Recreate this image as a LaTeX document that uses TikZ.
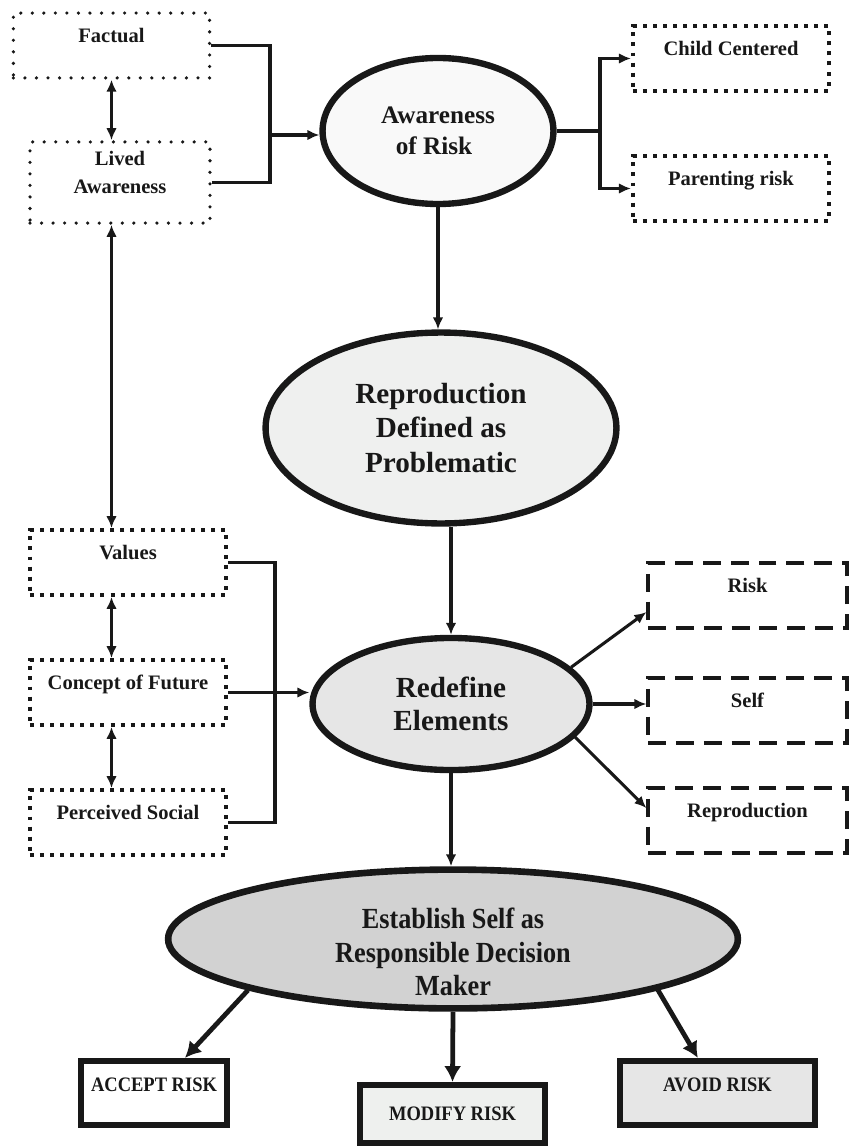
\documentclass[tikz,border=0pt]{standalone}
\usepackage{fontspec}
\setmainfont{Liberation Serif}
\newfontfamily\condfont[FakeStretch=0.9]{Liberation Serif}
\usetikzlibrary{arrows.meta, shapes.geometric}
\definecolor{ink}{RGB}{24,24,24}
\definecolor{ovalA}{RGB}{249,249,249}
\definecolor{ovalB}{RGB}{239,240,239}
\definecolor{ovalC}{RGB}{230,230,230}
\definecolor{ovalD}{RGB}{210,210,210}
\definecolor{boxB}{RGB}{238,240,238}
\definecolor{boxC}{RGB}{230,230,230}

\begin{document}
\begin{tikzpicture}[x=0.0265cm, y=-0.0265cm, >=Latex,
    lbl/.style={text=ink, font=\bfseries\fontsize{15.5}{21}\selectfont},
    toptext/.style={text height=10pt, text depth=15pt},
    dotbox/.style={lbl, draw=ink, line width=2.7pt, line cap=round,
        dash pattern=on 0pt off 8.7pt},
    sqbox/.style={lbl, draw=ink, line width=3pt,
        dash pattern=on 3pt off 4.6pt, minimum width=5.2cm, minimum height=1.72cm},
    dashbox/.style={lbl, draw=ink, line width=2.6pt,
        dash pattern=on 13.5pt off 7.5pt, minimum width=5.27cm, minimum height=1.72cm},
    oval/.style={ellipse, draw=ink, line width=4.8pt, inner sep=0pt,
        align=center, text=ink},
    endbox/.style={draw=ink, line width=4.5pt, text=ink,
        font=\condfont\bfseries\fontsize{15.5}{19}\selectfont},
    wire/.style={draw=ink, line width=2.3pt},
    arr/.style={wire, -{Latex[length=9pt, width=8pt]}},
    both/.style={wire, {Latex[length=9pt, width=8pt]}-{Latex[length=9pt, width=8pt]}},
    bigarr/.style={draw=ink, line width=3.6pt, -{Latex[length=12pt, width=13pt]}},
]
    \useasboundingbox (0,0) rectangle (850,1146);

    % top row
    \node[dotbox, toptext, minimum width=5.2cm, minimum height=1.72cm] (fact) at (111.5,45.5) {Factual};
    \node[dotbox, align=center, minimum width=4.77cm, minimum height=2.15cm] (lived) at (120,182.5) {Lived\\Awareness\\[-6pt]};
    \node[oval, fill=ovalA, minimum width=6.12cm, minimum height=3.87cm,
          font=\bfseries\fontsize{19}{23}\selectfont] (aware) at (438,131) {Awareness\\of Risk\hspace*{6pt}};
    \node[sqbox, toptext] (child)  at (731,58.5)  {Child Centered};
    \node[sqbox, toptext] (parent) at (731,188.5) {Parenting risk};

    \node[oval, fill=ovalB, minimum width=9.3cm, minimum height=5.06cm,
          font=\bfseries\fontsize{22}{26}\selectfont] (reprod) at (441,428) {Reproduction\\Defined as\\Problematic};

    % middle row
    \node[sqbox, toptext] (values)  at (128,562.5) {Values};
    \node[sqbox, toptext] (concept) at (128,692.5) {Concept of Future};
    \node[sqbox, toptext] (percv)   at (128,822.5) {Perceived Social};
    \node[oval, fill=ovalC, minimum width=7.34cm, minimum height=3.5cm,
          font=\bfseries\fontsize{22}{25}\selectfont] (redef) at (451,704) {Redefine\\Elements};
    \node[dashbox, toptext] (risk)    at (747.5,595.5) {Risk};
    \node[dashbox, toptext] (self)    at (747.5,710.5) {Self};
    \node[dashbox, toptext] (reprbox) at (747.5,820.5) {Reproduction};

    % bottom
    \node[oval, fill=ovalD, line width=5pt, minimum width=15.1cm, minimum height=3.68cm] (estab) at (453,939) {};
    \node[align=center, text=ink, font=\condfont\bfseries\fontsize{22}{25}\selectfont]
          (estabtxt) at (453,952) {Establish Self as\\Responsible Decision\\Maker};
    \node[endbox, fill=white, minimum width=3.87cm, minimum height=1.7cm,
          text height=10pt, text depth=12pt] (accept) at (154,1093) {ACCEPT RISK};
    \node[endbox, fill=boxB, minimum width=4.9cm, minimum height=1.54cm] (modify) at (452.5,1114) {MODIFY RISK};
    \node[endbox, fill=boxC, minimum width=5.17cm, minimum height=1.7cm,
          text height=10pt, text depth=12pt] (avoid) at (717.5,1093) {AVOID RISK};

    \coordinate (jl) at (270,135);
    \coordinate (jr) at (600,131);
    \coordinate (jv) at (275,693);

    % connectors
    \draw[wire] (fact.east) -| (jl) |- (lived.east);
    \draw[arr]  (jl) -- (jl -| aware.west);
    \draw[both] (fact.south) -- (fact.south |- lived.north);
    \draw[wire] (aware.east) -- (jr);
    \draw[arr]  (jr) |- (child.west);
    \draw[arr]  (jr) |- (parent.west);
    \draw[arr]  (aware.south) -- (aware.south |- reprod.north);

    \draw[both] (lived.south -| fact.south) -- (values.north -| fact.south);
    \draw[both] (values.south -| fact.south) -- (concept.north -| fact.south);
    \draw[both] (concept.south -| fact.south) -- (percv.north -| fact.south);
    \draw[wire] (values.east) -| (jv) |- (percv.east);
    \draw[arr]  (concept.east) -- (concept.east -| redef.west);
    \draw[arr]  (reprod.south -| redef.north) -- (redef.north);

    \draw[arr]  (redef.17) -- ([yshift=-0.44cm]risk.west);
    \draw[arr]  (redef.east) -- (redef.east -| self.west);
    \draw[arr]  (redef.-15) -- ([yshift=0.33cm]reprbox.west);
    \draw[arr]  (redef.south) -- (redef.south |- estab.north);

    \draw[bigarr] (estab.194) -- ([xshift=0.82cm]accept.north);
    \draw[bigarr] (estab.south) -- (modify.north);
    \draw[bigarr] (estab.-14) -- ([xshift=-0.52cm]avoid.north);

\end{tikzpicture}
\end{document}
